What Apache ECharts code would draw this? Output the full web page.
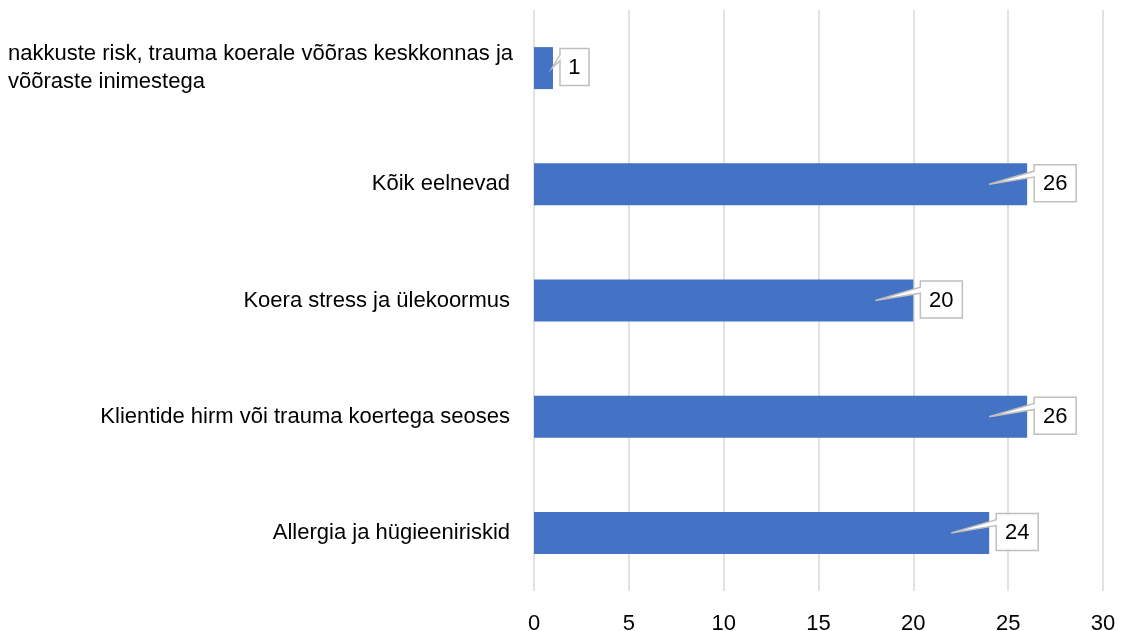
<!DOCTYPE html>
<html>
<head>
<meta charset="utf-8">
<script src="https://cdn.jsdelivr.net/npm/echarts@6/dist/echarts.min.js"></script>
<style>
  html, body { margin: 0; padding: 0; background: #fff; }
  #chart { width: 1121px; height: 631px; }
</style>
</head>
<body>
<div id="chart"></div>
<script>
// categories, top to bottom
var categories = [
  'nakkuste risk, trauma koerale võõras keskkonnas ja võõraste inimestega',
  'Kõik eelnevad',
  'Koera stress ja ülekoormus',
  'Klientide hirm või trauma koertega seoses',
  'Allergia ja hügieeniriskid'
];
var values = [1, 26, 20, 26, 24];
var xTicks = [0, 5, 10, 15, 20, 25, 30];

var FONT = '"Liberation Sans", Arial, sans-serif';
var chart = echarts.init(document.getElementById('chart'));

// wrap long category names by words, lines left aligned in a right aligned block
function wrapLabel(text) {
  var maxChars = 51;
  if (text.length <= maxChars) return text;
  var words = text.split(' ');
  var lines = [];
  var cur = '';
  words.forEach(function (w) {
    if (cur && (cur + ' ' + w).length > maxChars) {
      lines.push(cur);
      cur = w;
    } else {
      cur = cur ? cur + ' ' + w : w;
    }
  });
  if (cur) lines.push(cur);
  return lines.map(function (l) { return '{l|' + l + '}'; }).join('\n');
}

// callout label: white box with a thin wedge pointing into the bar
function renderCallout(params, api) {
  var v = api.value(0);
  var idx = api.value(1);
  var end = api.coord([v, idx]);
  var start = api.coord([0, idx]);
  var txt = String(v);
  var w = 16 + 13 * txt.length;
  var h = 37;
  var L = end[0] + 7;
  var T = end[1] - h / 2 - 1;
  var R = L + w;
  var B = T + h;
  var tipX = (end[0] - start[0] > 60) ? end[0] - 38 : end[0] - 1;
  var tip = [tipX, end[1]];
  return {
    type: 'group',
    children: [{
      type: 'polygon',
      shape: {
        points: [[L, T], [R, T], [R, B], [L, B], [L, T + h * 0.33], tip, [L, T + h * 0.17]]
      },
      style: { fill: '#fff', stroke: '#bfbfbf', lineWidth: 1.5 }
    }, {
      type: 'text',
      x: (L + R) / 2,
      y: (T + B) / 2 + 1,
      style: {
        text: txt,
        fill: '#000',
        font: '22px ' + FONT,
        align: 'center',
        verticalAlign: 'middle'
      }
    }]
  };
}

chart.setOption({
  animation: false,
  grid: {
    left: 534,
    right: 18,
    top: 10,
    bottom: 40,
    outerBoundsMode: 'none'
  },
  xAxis: {
    type: 'value',
    min: 0,
    max: 30,
    interval: 5,
    axisLine: { show: false },
    axisTick: { show: false },
    splitLine: { lineStyle: { color: '#d9d9d9', width: 1.5 } },
    axisLabel: {
      margin: 22,
      color: '#000',
      fontSize: 22,
      fontFamily: FONT,
      formatter: function (val) {
        return xTicks.indexOf(val) >= 0 ? String(val) : '';
      }
    }
  },
  yAxis: {
    type: 'category',
    inverse: true,
    data: categories,
    axisLine: { show: false },
    axisTick: { show: false },
    axisLabel: {
      margin: 24,
      color: '#000',
      fontSize: 22,
      fontFamily: FONT,
      lineHeight: 28,
      formatter: wrapLabel,
      rich: {
        l: {
          width: 502,
          align: 'left',
          color: '#000',
          fontSize: 22,
          fontFamily: FONT,
          lineHeight: 28
        }
      }
    }
  },
  series: [{
    type: 'bar',
    data: values,
    barWidth: 42,
    itemStyle: { color: '#4472c4' },
    z: 2
  }, {
    type: 'custom',
    data: values.map(function (v, i) { return [v, i]; }),
    encode: { x: 0, y: 1 },
    renderItem: renderCallout,
    z: 5
  }]
});
</script>
</body>
</html>
